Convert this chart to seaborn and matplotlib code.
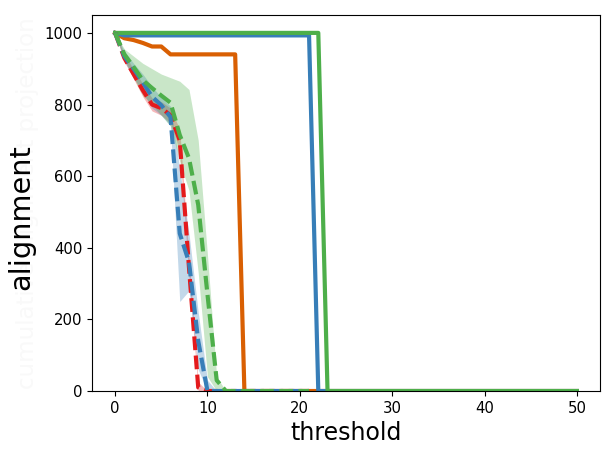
import matplotlib
matplotlib.use("Agg")
import matplotlib.pyplot as plt
import pandas as pd
import seaborn as sns

# ---- data ----
dash_thresholds = [0, 1, 2, 3, 4, 5, 6, 7, 8, 9, 10, 11, 12, 21]

red_dash_mid = [1000, 930, 885, 840, 800, 790, 770, 700, 345, 10, 0, 0, 0, 0]
red_dash_lo = [1000, 920, 872, 822, 782, 770, 748, 670, 315, 0, 0, 0, 0, 0]
red_dash_hi = [1000, 942, 898, 858, 818, 808, 790, 730, 375, 25, 0, 0, 0, 0]

blue_dash_mid = [1000, 935, 900, 862, 822, 798, 765, 440, 360, 140, 0, 0, 0, 0]
blue_dash_lo = [1000, 920, 875, 835, 790, 770, 740, 250, 280, 60, 0, 0, 0, 0]
blue_dash_hi = [1000, 950, 915, 885, 850, 820, 795, 620, 440, 220, 30, 0, 0, 0]

green_dash_mid = [1000, 940, 905, 868, 846, 825, 805, 715, 650, 520, 270, 30, 0, 0]
green_dash_lo = [1000, 925, 875, 825, 800, 770, 740, 640, 560, 330, 40, 0, 0, 0]
green_dash_hi = [1000, 955, 935, 915, 900, 885, 875, 865, 842, 700, 380, 40, 0, 0]

orange_x = [0, 1, 2, 3, 4, 5, 6, 13, 14, 50]
orange_y = [1000, 985, 980, 972, 962, 962, 940, 940, 0, 0]
blue_x = [0, 1, 21, 22, 50]
blue_y = [1000, 993, 993, 0, 0]
green_x = [0, 22, 23, 50]
green_y = [1000, 1000, 0, 0]

x_ticks = [0, 10, 20, 30, 40, 50]
y_ticks = [0, 200, 400, 600, 800, 1000]

palette = {"red": "#e41a1c", "blue": "#377eb8",
           "green": "#4daf4a", "orange": "#d95f02"}

# ---- long tables ----
rows = []
for name, lo, mid, hi in [("red", red_dash_lo, red_dash_mid, red_dash_hi),
                          ("blue", blue_dash_lo, blue_dash_mid, blue_dash_hi),
                          ("green", green_dash_lo, green_dash_mid, green_dash_hi)]:
    for x, a, b, c in zip(dash_thresholds, lo, mid, hi):
        for v in (a, b, c):
            rows.append({"threshold": x, "count": v, "method": name})
dash_df = pd.DataFrame(rows)

srows = []
for name, xs, ys in [("orange", orange_x, orange_y),
                     ("blue", blue_x, blue_y), ("green", green_x, green_y)]:
    for x, v in zip(xs, ys):
        srows.append({"threshold": x, "count": v, "method": name})
solid_df = pd.DataFrame(srows)

# ---- figure ----
fig = plt.figure(figsize=(6.15, 4.61), dpi=100)
ax = fig.add_axes([0.1496, 0.1518, 0.826, 0.8157])

sns.lineplot(data=solid_df, x="threshold", y="count", hue="method",
             hue_order=["orange", "blue", "green"], palette=palette,
             errorbar=None, linewidth=3, legend=False, ax=ax)

sns.lineplot(data=dash_df, x="threshold", y="count", hue="method",
             hue_order=["red", "blue", "green"], palette=palette,
             estimator="median", errorbar=("pi", 100),
             err_kws={"alpha": 0.3, "linewidth": 0},
             linewidth=3, linestyle=(0, (3.3, 1.3)), legend=False, ax=ax)

ax.set_xlim(-2.5, 52.5)
ax.set_ylim(0, 1050)
ax.set_xticks(x_ticks)
ax.set_yticks(y_ticks)
ax.tick_params(labelsize=10.7)
ax.set_xlabel("threshold", fontsize=17)
ax.set_ylabel("cumulative alignment projection", fontsize=16.5, color="#f9f9f9")
fig.text(21 / 615, 1 - 217.5 / 461, "alignment", rotation=90,
         ha="center", va="center", fontsize=20.7, color="black")

fig.savefig("out.png", dpi=100)
